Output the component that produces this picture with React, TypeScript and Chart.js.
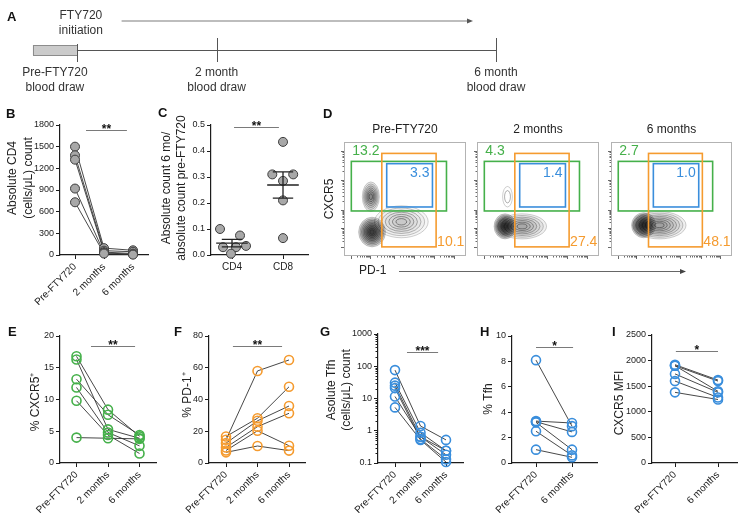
import React, { useEffect, useRef } from 'react';
import { Chart, registerables } from 'chart.js';
Chart.register(...registerables);

const W = 745;
const H = 522;
const FONT = '"Liberation Sans", Arial, Helvetica, sans-serif';
Chart.defaults.font.family = FONT;
Chart.defaults.color = '#222';

// ---------------- data ----------------
const timelineMonths = [0, 2, 6];
const timelineLabels = [['Pre-FTY720', 'blood draw'], ['2 month', 'blood draw'], ['6 month', 'blood draw']];
const treatmentLabel = ['FTY720', 'initiation'];
const preWindowMonths = -0.63;
const treatmentArrowMonths = [0.64, 5.67];

const timeCategories = ['Pre-FTY720', '2 months', '6 months'];
const pairCategories = ['Pre-FTY720', '6 months'];
const ratioCategories = ['CD4', 'CD8'];

// B: absolute CD4 count
const cd4CountPre = [1500, 1380, 1320, 920, 730];
const cd4Count2mo = [95, 60, 40, 30, 20];
const cd4Count6mo = [65, 45, 20, 10, 5];

// C: 6 mo / pre ratio
const cd4Ratio = [0.1, 0.075, 0.03, 0.035, 0.03, 0.005];
const cd8Ratio = [0.435, 0.31, 0.31, 0.285, 0.21, 0.065];
const cd4Jitter = [-0.235, 0.157, -0.176, 0.275, 0.078, -0.02];
const cd8Jitter = [0, -0.21, 0.2, 0, 0, 0];

// D: flow gates
const flowTitles = ['Pre-FTY720', '2 months', '6 months'];
const cxcr5GatePct = [13.2, 4.3, 2.7];
const tfhGatePct = [3.3, 1.4, 1.0];
const pd1GatePct = [10.1, 27.4, 48.1];
const flowBlobs = [
  [
    { x: 47, y: 30, rx: 22, ry: 14, levels: 7, alpha: 0.035 },
    { x: 22, y: 52, rx: 7, ry: 13, levels: 7, alpha: 0.09 },
    { x: 23, y: 21, rx: 11, ry: 13, levels: 9, alpha: 0.15 },
  ],
  [
    { x: 37, y: 26, rx: 20, ry: 11, levels: 7, alpha: 0.06 },
    { x: 25, y: 52, rx: 4, ry: 9, levels: 2, alpha: 0.0 },
    { x: 23, y: 26, rx: 9, ry: 11, levels: 9, alpha: 0.16 },
  ],
  [
    { x: 40, y: 27, rx: 22, ry: 12, levels: 8, alpha: 0.06 },
    { x: 27, y: 27, rx: 10, ry: 11, levels: 9, alpha: 0.16 },
  ],
];

// E: % CXCR5+
const cxcr5Pre = [16.8, 16.3, 13.2, 11.9, 9.8, 4.0];
const cxcr52mo = [8.4, 5.3, 7.6, 4.8, 4.4, 3.9];
const cxcr56mo = [4.2, 3.9, 4.4, 2.7, 1.5, 3.8];
// F: % PD-1+
const pd1Pre = [14.6, 16.7, 12.5, 9.8, 7.9, 6.7];
const pd12mo = [58, 28.2, 26.6, 22.9, 20.3, 10.7];
const pd16mo = [64.9, 48, 35.9, 31.3, 10.9, 7.8];
// G: absolute Tfh
const tfhAbsPre = [76, 31, 25, 21, 11.5, 5.3];
const tfhAbs2mo = [1.4, 0.87, 0.65, 0.55, 0.65, 0.52];
const tfhAbs6mo = [0.52, 0.24, 0.18, 0.13, 0.24, 0.107];
// H: % Tfh
const tfhPctPre = [8.1, 3.3, 3.2, 3.25, 2.5, 1.05];
const tfhPct6mo = [2.9, 3.15, 1.05, 2.45, 0.6, 0.45];
// I: CXCR5 MFI
const cxcr5MfiPre = [1920, 1900, 1900, 1740, 1600, 1380];
const cxcr5Mfi6mo = [1620, 1600, 1400, 1380, 1280, 1240];

// ---------------- styles ----------------
const AX = '#1c1c1c';
const GREEN = '#45b04a';
const ORANGE = '#f59b2f';
const BLUE = '#3a8edc';
const FILL = '#a8a8a8';

type Spec = {
  area: [number, number, number, number];
  title: string[];
  titleX: number;
  titleY: number;
  titleGap: number;
  log?: boolean;
  yMin: number;
  yMax: number;
  yTicks: number[];
  yFmt: (v: number) => string;
  cats: string[];
  catStart: number;
  catStep: number;
  rotate: boolean;
  series: number[][];
  lines: boolean;
  color: string;
  filled: boolean;
  jitter?: number[][];
  meanSem?: boolean;
  sig: { from: number; to: number; y: number; text: string };
};

function panelConfig(s: Spec): any {
  const [L, T, R, B] = s.area;
  const yW = 40;
  const xH = 50;
  const xMin = (L - s.catStart) / s.catStep;
  const xMax = (R - s.catStart) / s.catStep;
  const datasets: any[] = [];
  const n = s.series[0].length;
  if (s.lines) {
    for (let i = 0; i < n; i++) {
      datasets.push({
        data: s.series.map((vals, c) => ({ x: c, y: vals[i] })),
        showLine: true,
        pointRadius: 0,
        borderColor: '#333',
        borderWidth: 0.9,
        order: 2,
        clip: false,
      });
    }
  }
  s.series.forEach((vals, c) => {
    datasets.push({
      data: vals.map((v, i) => ({ x: c + (s.jitter ? s.jitter[c][i] : 0), y: v })),
      showLine: false,
      pointRadius: 4.5,
      pointBackgroundColor: s.filled ? FILL : 'rgba(255,255,255,0)',
      pointBorderColor: s.filled ? '#3d3d3d' : s.color,
      pointBorderWidth: s.filled ? 1 : 1.6,
      order: 1,
      clip: false,
    });
  });

  const deco = {
    id: 'deco',
    afterDatasetsDraw(chart: any) {
      const ctx = chart.ctx;
      const xs = chart.scales.x;
      const ys = chart.scales.y;
      ctx.save();
      if (s.meanSem) {
        s.series.forEach((vals, c) => {
          const m = vals.reduce((a, b) => a + b, 0) / vals.length;
          const sd = Math.sqrt(vals.reduce((a, b) => a + (b - m) * (b - m), 0) / (vals.length - 1));
          const se = sd / Math.sqrt(vals.length);
          ctx.strokeStyle = '#222';
          ctx.lineWidth = 1.3;
          const xc = xs.getPixelForValue(c);
          const hw = xs.getPixelForValue(c + 0.31) - xc;
          const cw = xs.getPixelForValue(c + 0.2) - xc;
          const ym = ys.getPixelForValue(m);
          const yh = ys.getPixelForValue(m + se);
          const yl = ys.getPixelForValue(m - se);
          ctx.beginPath();
          ctx.moveTo(xc - hw, ym); ctx.lineTo(xc + hw, ym);
          ctx.moveTo(xc, yh); ctx.lineTo(xc, yl);
          ctx.moveTo(xc - cw, yh); ctx.lineTo(xc + cw, yh);
          ctx.moveTo(xc - cw, yl); ctx.lineTo(xc + cw, yl);
          ctx.stroke();
        });
      }
      if (s.log) {
        ctx.strokeStyle = AX;
        ctx.lineWidth = 1;
        ctx.beginPath();
        for (let d = s.yMin; d < s.yMax * 0.999; d *= 10) {
          for (let k = 2; k <= 9; k++) {
            const y = Math.round(ys.getPixelForValue(d * k)) + 0.5;
            ctx.moveTo(xs.left - 2.5, y);
            ctx.lineTo(xs.left, y);
          }
        }
        ctx.stroke();
      }
      // significance bar
      const sy = Math.round(ys.getPixelForValue(s.sig.y)) + 0.5;
      const x1 = xs.getPixelForValue(s.sig.from);
      const x2 = xs.getPixelForValue(s.sig.to);
      ctx.strokeStyle = '#7a7a7a';
      ctx.lineWidth = 1;
      ctx.beginPath();
      ctx.moveTo(x1, sy); ctx.lineTo(x2, sy);
      ctx.stroke();
      ctx.fillStyle = '#111';
      ctx.font = `bold 12px ${FONT}`;
      ctx.textAlign = 'center';
      ctx.textBaseline = 'alphabetic';
      ctx.fillText(s.sig.text, (x1 + x2) / 2, sy + 2);
      // axis title
      ctx.fillStyle = '#222';
      ctx.font = `12px ${FONT}`;
      ctx.textBaseline = 'middle';
      s.title.forEach((t, i) => {
        ctx.save();
        ctx.translate(s.titleX + i * s.titleGap, s.titleY);
        ctx.rotate(-Math.PI / 2);
        ctx.fillText(t, 0, 0);
        ctx.restore();
      });
      ctx.restore();
    },
  };

  const gridOpts = { drawOnChartArea: false, tickLength: 4, tickColor: AX, tickWidth: 1 };
  const borderOpts = { color: AX, width: 1.2 };
  return {
    type: 'scatter',
    data: { datasets },
    plugins: [deco],
    options: {
      animation: false,
      responsive: false,
      devicePixelRatio: 1,
      events: [],
      layout: { padding: { left: L - yW, top: T, right: W - R, bottom: H - B - xH } },
      plugins: { legend: { display: false }, tooltip: { enabled: false } },
      scales: {
        x: {
          type: 'linear',
          min: xMin,
          max: xMax,
          afterBuildTicks: (sc: any) => { sc.ticks = s.cats.map((_, i) => ({ value: i })); },
          afterFit: (sc: any) => { sc.height = xH; },
          ticks: {
            autoSkip: false,
            callback: (v: any) => s.cats[Math.round(v)] ?? '',
            minRotation: s.rotate ? 45 : 0,
            maxRotation: s.rotate ? 45 : 0,
            font: { size: 10 },
            color: '#222',
            padding: 2,
          },
          grid: gridOpts,
          border: borderOpts,
        },
        y: {
          type: s.log ? 'logarithmic' : 'linear',
          min: s.yMin,
          max: s.yMax,
          afterBuildTicks: (sc: any) => { sc.ticks = s.yTicks.map((v) => ({ value: v })); },
          afterFit: (sc: any) => { sc.width = yW; },
          ticks: { callback: (v: any) => s.yFmt(Number(v)), font: { size: 9 }, color: '#222', padding: 2 },
          grid: gridOpts,
          border: borderOpts,
        },
      },
    },
  };
}

const specs: Spec[] = [
  {
    area: [60, 125, 148, 255], title: ['Absolute CD4', '(cells/μL) count'], titleX: 13, titleY: 178, titleGap: 15.5,
    yMin: 0, yMax: 1800, yTicks: [0, 300, 600, 900, 1200, 1500, 1800], yFmt: (v) => String(v),
    cats: timeCategories, catStart: 75, catStep: 29, rotate: true,
    series: [cd4CountPre, cd4Count2mo, cd4Count6mo], lines: true, color: '#444', filled: true,
    sig: { from: 0.38, to: 1.79, y: 1730, text: '**' },
  },
  {
    area: [211, 125, 308, 255], title: ['Absolute count 6 mo/', 'absolute count pre-FTY720'], titleX: 166.5, titleY: 188, titleGap: 15,
    yMin: 0, yMax: 0.5, yTicks: [0, 0.1, 0.2, 0.3, 0.4, 0.5], yFmt: (v) => v.toFixed(1),
    cats: ratioCategories, catStart: 232, catStep: 51, rotate: false,
    series: [cd4Ratio, cd8Ratio], lines: false, color: '#444', filled: true,
    jitter: [cd4Jitter, cd8Jitter], meanSem: true,
    sig: { from: 0.04, to: 0.92, y: 0.492, text: '**' },
  },
  {
    area: [60, 336, 156, 463], title: ['% CXCR5⁺'], titleX: 36, titleY: 402, titleGap: 0,
    yMin: 0, yMax: 20, yTicks: [0, 5, 10, 15, 20], yFmt: (v) => String(v),
    cats: timeCategories, catStart: 76.5, catStep: 31.5, rotate: true,
    series: [cxcr5Pre, cxcr52mo, cxcr56mo], lines: true, color: GREEN, filled: false,
    sig: { from: 0.46, to: 1.86, y: 18.4, text: '**' },
  },
  {
    area: [209, 336, 305, 463], title: ['% PD-1⁺'], titleX: 188, titleY: 395, titleGap: 0,
    yMin: 0, yMax: 80, yTicks: [0, 20, 40, 60, 80], yFmt: (v) => String(v),
    cats: timeCategories, catStart: 226, catStep: 31.5, rotate: true,
    series: [pd1Pre, pd12mo, pd16mo], lines: true, color: ORANGE, filled: false,
    sig: { from: 0.22, to: 1.78, y: 73.7, text: '**' },
  },
  {
    area: [378, 334, 463, 463], title: ['Asolute Tfh', '(cells/μL) count'], titleX: 332, titleY: 390, titleGap: 15,
    log: true, yMin: 0.1, yMax: 1000, yTicks: [0.1, 1, 10, 100, 1000], yFmt: (v) => (v < 1 ? '0.1' : String(Math.round(v))),
    cats: timeCategories, catStart: 395, catStep: 25.5, rotate: true,
    series: [tfhAbsPre, tfhAbs2mo, tfhAbs6mo], lines: true, color: BLUE, filled: false,
    sig: { from: 0.47, to: 1.69, y: 275, text: '***' },
  },
  {
    area: [512, 336, 597, 463], title: ['% Tfh'], titleX: 489, titleY: 399, titleGap: 0,
    yMin: 0, yMax: 10, yTicks: [0, 2, 4, 6, 8, 10], yFmt: (v) => String(v),
    cats: pairCategories, catStart: 536, catStep: 36, rotate: true,
    series: [tfhPctPre, tfhPct6mo], lines: true, color: BLUE, filled: false,
    sig: { from: 0, to: 1.03, y: 9.13, text: '*' },
  },
  {
    area: [652, 335, 737, 463], title: ['CXCR5 MFI'], titleX: 620, titleY: 403, titleGap: 0,
    yMin: 0, yMax: 2500, yTicks: [0, 500, 1000, 1500, 2000, 2500], yFmt: (v) => String(v),
    cats: pairCategories, catStart: 675, catStep: 43, rotate: true,
    series: [cxcr5MfiPre, cxcr5Mfi6mo], lines: true, color: BLUE, filled: false,
    sig: { from: 0.02, to: 1.0, y: 2187, text: '*' },
  },
];

function hiddenScales(xmin: number, xmax: number) {
  return {
    x: { type: 'linear', display: false, min: xmin, max: xmax },
    y: { type: 'linear', display: false, min: 0, max: 100 },
  };
}

// ---------- A: timeline ----------
function timelineConfig(): any {
  const plugin = {
    id: 'timeline',
    afterDraw(chart: any) {
      const ctx = chart.ctx;
      const xs = chart.scales.x;
      const px = (m: number) => xs.getPixelForValue(m);
      ctx.save();
      const b1 = px(preWindowMonths);
      const b2 = px(timelineMonths[0]);
      ctx.fillStyle = '#cbcbcb';
      ctx.fillRect(b1, 45, b2 - b1, 10);
      ctx.strokeStyle = '#8c8c8c';
      ctx.lineWidth = 1;
      ctx.strokeRect(Math.round(b1) + 0.5, 45.5, b2 - b1, 10);
      ctx.strokeStyle = '#555';
      ctx.beginPath();
      ctx.moveTo(b2, 50.5);
      ctx.lineTo(px(timelineMonths[timelineMonths.length - 1]), 50.5);
      timelineMonths.forEach((m, i) => {
        const x = Math.round(px(m)) + 0.5;
        ctx.moveTo(x, i === 0 ? 44 : 38);
        ctx.lineTo(x, 62);
      });
      ctx.stroke();
      const a1 = px(treatmentArrowMonths[0]);
      const a2 = px(treatmentArrowMonths[1]);
      ctx.strokeStyle = '#7d7d7d';
      ctx.lineWidth = 1.2;
      ctx.beginPath();
      ctx.moveTo(a1, 21);
      ctx.lineTo(a2 - 4, 21);
      ctx.stroke();
      ctx.fillStyle = '#555';
      ctx.beginPath();
      ctx.moveTo(a2, 21);
      ctx.lineTo(a2 - 6, 18.5);
      ctx.lineTo(a2 - 6, 23.5);
      ctx.closePath();
      ctx.fill();
      ctx.fillStyle = '#333';
      ctx.font = `12px ${FONT}`;
      ctx.textAlign = 'center';
      ctx.textBaseline = 'middle';
      ctx.fillText(treatmentLabel[0], px(0) + 4, 16);
      ctx.fillText(treatmentLabel[1], px(0) + 4, 30.5);
      timelineLabels.forEach((lines, i) => {
        const x = i === 0 ? (b1 + b2) / 2 : px(timelineMonths[i]);
        ctx.fillText(lines[0], x, 73);
        ctx.fillText(lines[1], x, 88);
      });
      ctx.restore();
    },
  };
  return {
    type: 'scatter',
    data: { datasets: [{ data: [] }] },
    plugins: [plugin],
    options: {
      animation: false, responsive: false, devicePixelRatio: 1, events: [],
      layout: { padding: { left: 21, right: W - 510, top: 0, bottom: H - 100 } },
      plugins: { legend: { display: false }, tooltip: { enabled: false } },
      scales: hiddenScales(-0.8, 6.2),
    },
  };
}

// ---------- D: flow plots ----------
const flowAreas: [number, number, number, number][] = [
  [344, 142, 466, 256],
  [477, 142, 599, 256],
  [611, 142, 732, 256],
];
const greenGate = { x1: 6, x2: 84, y1: 39.5, y2: 83 };
const orangeGate = { x1: 31, x2: 75.5, y1: 8, y2: 90 };
const blueGate = { x1: 35, x2: 72.5, y1: 43, y2: 81 };
const flowMajorY = [8, 25, 40, 67, 92];
const flowMajorX = [6, 21, 41, 57, 74, 90];

function flowConfig(idx: number): any {
  const [L, T, R, B] = flowAreas[idx];
  const plugin = {
    id: 'flow',
    afterDraw(chart: any) {
      const ctx = chart.ctx;
      const xs = chart.scales.x;
      const ys = chart.scales.y;
      const X = (v: number) => xs.getPixelForValue(v);
      const Y = (v: number) => ys.getPixelForValue(v);
      ctx.save();
      flowBlobs[idx].forEach((b) => {
        const cx = X(b.x), cy = Y(b.y);
        const rx = X(b.x + b.rx) - cx, ry = cy - Y(b.y + b.ry);
        for (let i = 0; i < b.levels; i++) {
          const f = 1 - i / (b.levels + 0.5);
          ctx.beginPath();
          ctx.ellipse(cx, cy, rx * f, ry * f, 0, 0, Math.PI * 2);
          if (b.alpha > 0) {
            ctx.fillStyle = `rgba(0,0,0,${b.alpha})`;
            ctx.fill();
          }
          ctx.strokeStyle = `rgba(30,30,30,${0.35 + 0.5 * (i / b.levels)})`;
          ctx.lineWidth = 0.6;
          ctx.stroke();
        }
      });
      ctx.strokeStyle = '#b3b3b3';
      ctx.lineWidth = 1;
      ctx.strokeRect(L + 0.5, T + 0.5, R - L - 1, B - T - 1);
      ctx.strokeStyle = '#444';
      ctx.lineWidth = 0.8;
      ctx.beginPath();
      for (let i = 0; i < flowMajorY.length; i++) {
        const y = Math.round(Y(flowMajorY[i])) + 0.5;
        ctx.moveTo(L - 3, y); ctx.lineTo(L, y);
        if (i < flowMajorY.length - 1) {
          for (let k = 2; k <= 9; k++) {
            const v = flowMajorY[i] + (flowMajorY[i + 1] - flowMajorY[i]) * Math.log10(k);
            const yy = Math.round(Y(v)) + 0.5;
            ctx.moveTo(L - 1.5, yy); ctx.lineTo(L, yy);
          }
        }
      }
      for (let i = 0; i < flowMajorX.length; i++) {
        const x = Math.round(X(flowMajorX[i])) + 0.5;
        ctx.moveTo(x, B); ctx.lineTo(x, B + 3);
        if (i < flowMajorX.length - 1) {
          for (let k = 2; k <= 9; k++) {
            const v = flowMajorX[i] + (flowMajorX[i + 1] - flowMajorX[i]) * Math.log10(k);
            const xx = Math.round(X(v)) + 0.5;
            ctx.moveTo(xx, B); ctx.lineTo(xx, B + 1.5);
          }
        }
      }
      ctx.stroke();
      const rect = (g: any, color: string) => {
        ctx.strokeStyle = color;
        ctx.lineWidth = 1.6;
        ctx.strokeRect(X(g.x1), Y(g.y2), X(g.x2) - X(g.x1), Y(g.y1) - Y(g.y2));
      };
      rect(greenGate, GREEN);
      rect(orangeGate, ORANGE);
      rect(blueGate, BLUE);
      ctx.font = `14px ${FONT}`;
      ctx.textBaseline = 'middle';
      ctx.fillStyle = GREEN;
      ctx.textAlign = 'left';
      ctx.fillText(cxcr5GatePct[idx].toFixed(1), X(greenGate.x1) + 1, T + 9);
      ctx.fillStyle = BLUE;
      ctx.textAlign = 'right';
      ctx.fillText(tfhGatePct[idx].toFixed(1), X(blueGate.x2) - 3, Y(blueGate.y2) + 9);
      ctx.fillStyle = ORANGE;
      ctx.textAlign = 'left';
      ctx.fillText(pd1GatePct[idx].toFixed(1), X(orangeGate.x2) + 1, Y(orangeGate.y1) - 5);
      ctx.fillStyle = '#222';
      ctx.font = `12px ${FONT}`;
      ctx.textAlign = 'center';
      ctx.fillText(flowTitles[idx], (L + R) / 2, T - 12);
      if (idx === 0) {
        ctx.save();
        ctx.translate(330, 199);
        ctx.rotate(-Math.PI / 2);
        ctx.fillText('CXCR5', 0, 0);
        ctx.restore();
        ctx.textAlign = 'left';
        ctx.fillText('PD-1', 359, 271);
        ctx.strokeStyle = '#666';
        ctx.lineWidth = 1;
        ctx.beginPath();
        ctx.moveTo(399, 271.5);
        ctx.lineTo(681, 271.5);
        ctx.stroke();
        ctx.fillStyle = '#444';
        ctx.beginPath();
        ctx.moveTo(686, 271.5);
        ctx.lineTo(680, 269);
        ctx.lineTo(680, 274);
        ctx.closePath();
        ctx.fill();
      }
      ctx.restore();
    },
  };
  return {
    type: 'scatter',
    data: { datasets: [{ data: [] }] },
    plugins: [plugin],
    options: {
      animation: false, responsive: false, devicePixelRatio: 1, events: [],
      layout: { padding: { left: L, right: W - R, top: T, bottom: H - B } },
      plugins: { legend: { display: false }, tooltip: { enabled: false } },
      scales: hiddenScales(0, 100),
    },
  };
}

function ChartCanvas({ make }: { make: () => any }) {
  const ref = useRef<HTMLCanvasElement>(null);
  useEffect(() => {
    const chart = new Chart(ref.current as HTMLCanvasElement, make());
    return () => chart.destroy();
  }, []);
  return (
    <canvas
      ref={ref}
      width={W}
      height={H}
      style={{ position: 'absolute', left: 0, top: 0, width: W, height: H }}
    />
  );
}

const panelLetters = [
  { t: 'A', x: 7, y: 16 },
  { t: 'B', x: 6, y: 113 },
  { t: 'C', x: 158, y: 112 },
  { t: 'D', x: 323, y: 113 },
  { t: 'E', x: 8, y: 331 },
  { t: 'F', x: 174, y: 331 },
  { t: 'G', x: 320, y: 331 },
  { t: 'H', x: 480, y: 331 },
  { t: 'I', x: 612, y: 331 },
];

export default function App() {
  return (
    <div style={{ position: 'fixed', left: 0, top: 0, width: W, height: H, background: '#fff', overflow: 'hidden' }}>
      <ChartCanvas make={timelineConfig} />
      {flowAreas.map((_, i) => (
        <ChartCanvas key={'f' + i} make={() => flowConfig(i)} />
      ))}
      {specs.map((s, i) => (
        <ChartCanvas key={'p' + i} make={() => panelConfig(s)} />
      ))}
      {panelLetters.map((p) => (
        <div
          key={p.t}
          style={{
            position: 'absolute',
            left: p.x,
            top: p.y - 6.5,
            font: `bold 13px ${FONT}`,
            lineHeight: '13px',
            color: '#111',
          }}
        >
          {p.t}
        </div>
      ))}
    </div>
  );
}
